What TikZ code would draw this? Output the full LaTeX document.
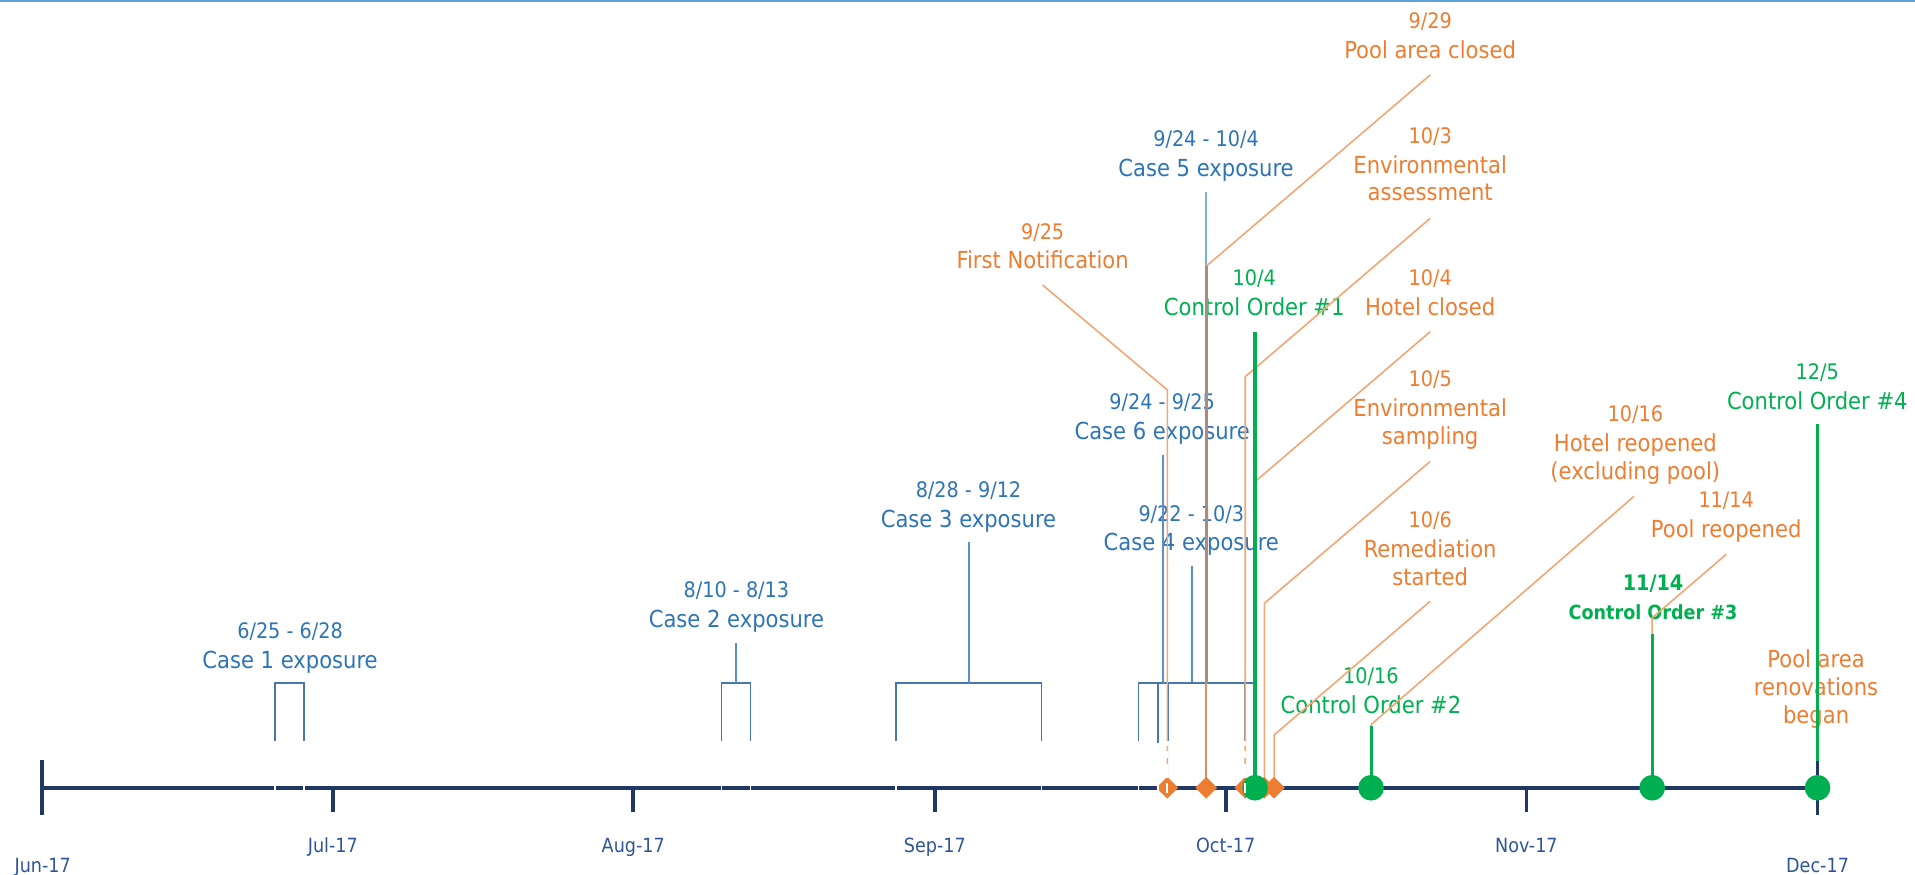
\documentclass[tikz,border=0pt]{standalone}
\usepackage{fontspec}
\setmainfont{DejaVu Sans Condensed}
\usetikzlibrary{shapes.geometric}
\definecolor{cblue}{HTML}{2E75B6}
\definecolor{cbrk}{HTML}{4677B2}
\definecolor{cstem}{HTML}{5B8FC9}
\definecolor{cstemlt}{HTML}{7EB0DC}
\definecolor{corange}{HTML}{ED7D31}
\definecolor{corl}{HTML}{F3A672}
\definecolor{ctan}{HTML}{D9925F}
\definecolor{cbrown}{HTML}{B08A78}
\definecolor{cgreen}{HTML}{00B050}
\definecolor{cnavy}{HTML}{1F3864}
\definecolor{cmonth}{HTML}{2F5597}
\definecolor{cborder}{HTML}{5BA3D9}
\newcommand{\datetxt}[1]{{\fontsize{17.5}{20}\selectfont #1}}
\begin{document}
\begin{tikzpicture}[x=1pt,y=-1pt,
  lbl/.style={align=center, inner sep=0pt, anchor=north, font=\fontsize{19.2}{22.8}\selectfont},
  bluelbl/.style={lbl, text=cblue},
  orglbl/.style={lbl, text=corange},
  grnlbl/.style={lbl, text=cgreen},
  monthlbl/.style={inner sep=0pt, anchor=base, text=cmonth, font=\fontsize{16}{19}\selectfont},
  brk/.style={draw=cbrk, line width=1.4pt},
  stemline/.style={draw=cstem, line width=1.5pt},
  orgline/.style={draw=corl, line width=1.3pt},
  grnline/.style={draw=cgreen, line width=2.5pt},
  axisline/.style={draw=cnavy, line width=3.3pt},
  tickline/.style={draw=cnavy, line width=3pt},
  evtd/.style={diamond, fill=corange, inner sep=0pt, minimum size=18pt},
  evtc/.style={circle, fill=cgreen, inner sep=0pt, minimum size=21pt},
  gapline/.style={draw=white, line width=1.2pt},
  gapdash/.style={draw=white, line width=1.4pt, dash pattern=on 4.3pt off 4.3pt on 5pt off 5pt on 12pt off 4pt on 8pt},
]
\useasboundingbox (0,0) rectangle (1568,716);
\fill[cborder] (0,0) rectangle (1568,2);

% ---------- labels ----------
\node[bluelbl] (c1) at (237.5,509.4) {\datetxt{6/25 - 6/28}\\[1.6pt] Case 1 exposure};
\node[bluelbl] (c2) at (603,476.1) {\datetxt{8/10 - 8/13}\\[1.6pt] Case 2 exposure};
\node[bluelbl] (c3) at (793,394.3) {\datetxt{8/28 - 9/12}\\[1.6pt] Case 3 exposure};
\node[bluelbl] (c4) at (975.4,413.4) {\datetxt{9/22 - 10/3}\\[1.6pt] Case 4 exposure};
\node[bluelbl] (c5) at (987.5,106.9) {\datetxt{9/24 - 10/4}\\[1.6pt] Case 5 exposure};
\node[bluelbl] (c6) at (951.6,322.5) {\datetxt{9/24 - 9/25}\\[1.6pt] Case 6 exposure};

\node[orglbl] (fn) at (853.7,182.5) {\datetxt{9/25}\\[1.6pt] First Notification};
\node[orglbl] (pc) at (1171,10.0) {\datetxt{9/29}\\[1.6pt] Pool area closed};
\node[orglbl] (ea) at (1171,104.1) {\datetxt{10/3}\\[1.6pt] Environmental\\ assessment};
\node[orglbl] (hc) at (1171,220.6) {\datetxt{10/4}\\[1.6pt] Hotel closed};
\node[orglbl] (es) at (1171,303.6) {\datetxt{10/5}\\[1.6pt] Environmental\\ sampling};
\node[orglbl] (rm) at (1171,419.0) {\datetxt{10/6}\\[1.6pt] Remediation\\ started};
\node[orglbl] (hr) at (1339,332.1) {\datetxt{10/16}\\[1.6pt] Hotel reopened\\ (excluding pool)};
\node[orglbl] (pr) at (1413.4,402.8) {\datetxt{11/14}\\[1.6pt] Pool reopened};
\node[orglbl] (rv) at (1487,531.7) {Pool area\\ renovations\\ began};

\node[grnlbl] (co1) at (1027,220.6) {\datetxt{10/4}\\[1.6pt] Control Order \#1};
\node[grnlbl] (co2) at (1122.5,546.6) {\datetxt{10/16}\\[1.6pt] Control Order \#2};
\node[grnlbl, font=\bfseries\fontsize{16}{22.8}\selectfont] (co3) at (1353.5,470.8) {\datetxt{\bfseries 11/14}\\[0.5pt] Control Order \#3};
\node[grnlbl] (co4) at (1488,297.4) {\datetxt{12/5}\\[1.6pt] Control Order \#4};

% ---------- month labels ----------
\node[monthlbl] (mjun) at (35,714.3) {Jun-17};
\node[monthlbl] (mjul) at (272.5,697.8) {Jul-17};
\node[monthlbl] (maug) at (518.5,697.8) {Aug-17};
\node[monthlbl] (msep) at (765.5,697.8) {Sep-17};
\node[monthlbl] (moct) at (1003.6,697.8) {Oct-17};
\node[monthlbl] (mnov) at (1249.8,697.8) {Nov-17};
\node[monthlbl] (mdec) at (1488.2,714.3) {Dec-17};

% ---------- event points on the axis ----------
\coordinate (e0925) at (955.8,645);
\coordinate (e0929) at (987.6,645);
\coordinate (e1003) at (1019.6,645);
\coordinate (e1004) at (1027.6,645);
\coordinate (e1005) at (1035.2,645);
\coordinate (e1006) at (1043.2,645);
\coordinate (e1016) at (1122.6,645);
\coordinate (e1114) at (1352.8,645);
\coordinate (e1205) at (1488.2,645);

% ---------- connector bend points ----------
\coordinate (fnA) at (853.7,233.4);   \coordinate (fnB) at (955.8,319.3);
\coordinate (pcA) at (1171,61.4);     \coordinate (pcB) at (987.6,218);
\coordinate (eaA) at (1171,178.8);    \coordinate (eaB) at (1019.6,308.4);
\coordinate (hcA) at (1171,271.6);    \coordinate (hcB) at (1027.6,394.4);
\coordinate (esA) at (1171,377.8);    \coordinate (esB) at (1035.2,494);
\coordinate (rmA) at (1171,492.3);    \coordinate (rmB) at (1043.2,601.8);
\coordinate (hrA) at (1338,406.3);    \coordinate (hrB) at (1122.6,593.3);
\coordinate (prA) at (1413.4,453.9);  \coordinate (prB) at (1352.8,505.9);
\coordinate (c5top) at (987.6,157);   \coordinate (c5bar) at (987.6,559);

% ---------- blue exposure brackets ----------
\draw[brk] (225.3,606.7) |- (249.1,559) -- (249.1,606.7);
\draw[brk] (590.7,606.7) |- (614.5,559) -- (614.5,606.7);
\draw[stemline] (602.6,559) -- (602.6,526.6);
\draw[brk] (733.7,606.7) |- (852.8,559) -- (852.8,606.7);
\draw[stemline] (793.2,559) -- (793.2,444);
\draw[brk] (932.3,606.7) |- (1019.6,559) -- (1019.6,606.7);
\draw[stemline] (975.9,559) -- (975.9,463.2);
\draw[brk] (948.2,608) |- (1027.6,559);
\draw[brk] (956.1,606.7) -- (956.1,559);
\draw[stemline] (952.2,559) -- (952.2,372.6);
\draw[draw=cstemlt, line width=1.6pt] (c5bar) -- (c5top);

% ---------- orange connectors ----------
\draw[orgline] (fnA) -- (fnB) -- (e0925);
\draw[orgline] (pcA) -- (pcB);
\draw[draw=ctan, line width=2pt] (pcB) -- (e0929);
\draw[draw=cbrown, line width=2.2pt] (pcB) -- (c5bar);
\draw[orgline] (eaA) -- (eaB) -- (e1003);
\draw[orgline] (hcA) -- (hcB) -- (e1004);
\draw[orgline] (esA) -- (esB) -- (e1005);
\draw[orgline] (rmA) -- (rmB) -- (e1006);
\draw[orgline] (hrA) -- (hrB) -- (e1016);
\draw[orgline] (prA) -- (prB) -- (e1114);

% ---------- green control orders ----------
\coordinate (co1B) at (1027.6,271.6);
\coordinate (co2B) at (1122.6,594.8);
\coordinate (co3B) at (1352.8,519.3);
\coordinate (co4B) at (1488.2,347.1);
\draw[grnline, line width=2.8pt] (co1B) -- (e1004);
\draw[grnline] (co2B) -- (e1016);
\draw[grnline] (co3B) -- (e1114);
\draw[grnline] (co4B) -- (e1205);

% ---------- time axis ----------
\draw[axisline] (34.6,645) -- (1489,645);
\draw[tickline] (34.6,622.4) -- (34.6,667.4);
\draw[tickline] (272.5,645) -- (272.5,664.6);
\draw[tickline] (518.5,645) -- (518.5,664.6);
\draw[tickline] (765.5,645) -- (765.5,664.6);
\draw[tickline] (1003.6,645) -- (1003.6,664.6);
\draw[tickline] (1249.8,645) -- (1249.8,664.6);
\draw[tickline] (1488.2,623) -- (1488.2,667.5);

% ---------- event markers ----------
\node[evtd] (d0925) at (e0925) {};
\node[evtd] (d0929) at (e0929) {};
\node[evtd] (d1003) at (e1003) {};
\node[evtd] (d1005) at (e1005) {};
\node[evtd] (d1006) at (e1006) {};
\node[evtc] (g1004) at (e1004) {};
\node[evtc] (g1016) at (e1016) {};
\node[evtc] (g1114) at (e1114) {};
\node[evtc] (g1205) at (e1205) {};

% ---------- white gaps below bracket legs ----------
\foreach \gx in {225.3,249.1,590.7,614.5,733.7,852.8,932.3,948.2}
  \draw[gapline] (\gx,641) -- (\gx,649);
\draw[gapdash] (955.8,606.7) -- (955.8,649.3);
\draw[gapdash] (1019.6,606.7) -- (1019.6,649.3);
\end{tikzpicture}
\end{document}
